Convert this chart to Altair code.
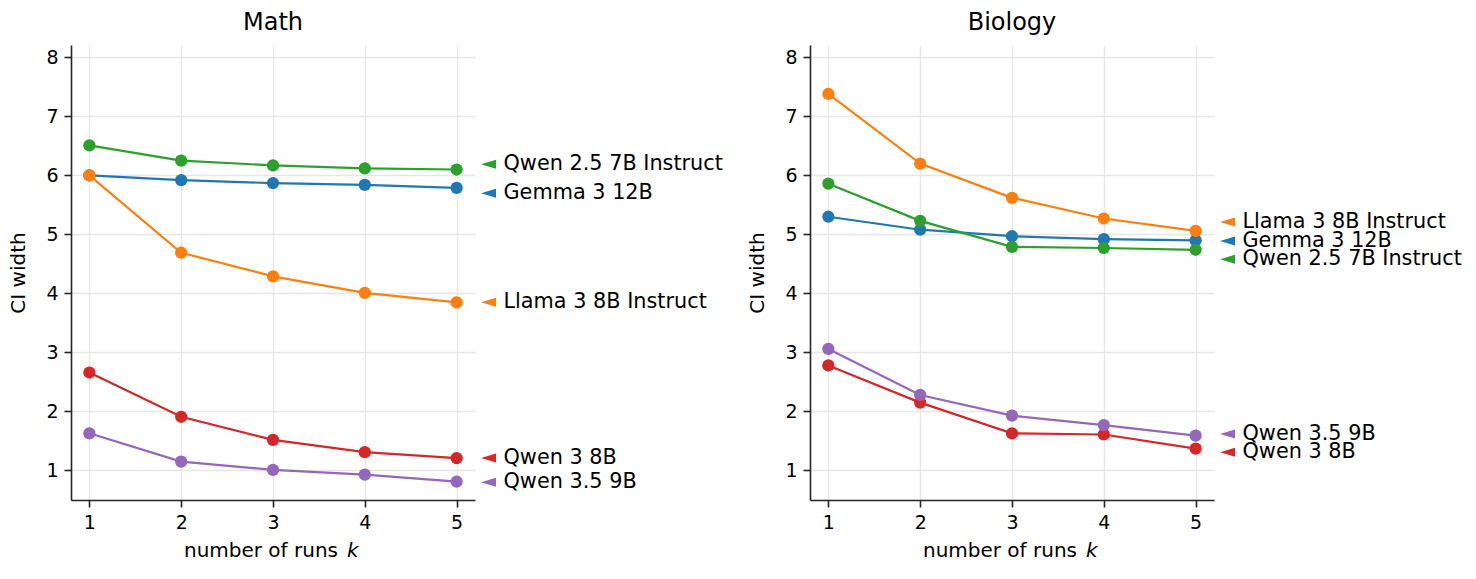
import altair as alt
import pandas as pd

FONT = "DejaVu Sans"

models = ["Gemma 3 12B", "Llama 3 8B Instruct", "Qwen 2.5 7B Instruct", "Qwen 3 8B", "Qwen 3.5 9B"]
colors = ["#1f77b4", "#ff7f0e", "#2ca02c", "#d62728", "#9467bd"]
k_values = [1, 2, 3, 4, 5]
y_ticks = [1, 2, 3, 4, 5, 6, 7, 8]

math_gemma = [6.00, 5.92, 5.87, 5.84, 5.79]
math_llama = [6.00, 4.69, 4.29, 4.01, 3.85]
math_qwen25 = [6.51, 6.25, 6.17, 6.12, 6.10]
math_qwen3 = [2.66, 1.91, 1.52, 1.31, 1.21]
math_qwen35 = [1.63, 1.15, 1.01, 0.93, 0.81]

bio_gemma = [5.30, 5.08, 4.97, 4.92, 4.90]
bio_llama = [7.38, 6.20, 5.62, 5.27, 5.06]
bio_qwen25 = [5.86, 5.23, 4.79, 4.77, 4.74]
bio_qwen3 = [2.78, 2.15, 1.63, 1.61, 1.37]
bio_qwen35 = [3.06, 2.28, 1.93, 1.77, 1.59]

# end-of-line label positions (in CI-width units, spread apart to avoid overlap)
math_label_y = [5.70, 3.85, 6.19, 1.21, 0.80]
bio_label_y = [4.89, 5.21, 4.58, 1.31, 1.62]

W = 404
H = 455
X_DOMAIN = [0.8, 5.2]
Y_DOMAIN = [0.5, 8.21]


def panel(title, series, label_y):
    rows = []
    for m, vals in zip(models, series):
        for k, v in zip(k_values, vals):
            rows.append({"model": m, "k": k, "ci": v})
    df = pd.DataFrame(rows)
    lab = pd.DataFrame({"model": models, "ly": label_y})

    xs = alt.Scale(domain=X_DOMAIN, nice=False, zero=False)
    ys = alt.Scale(domain=Y_DOMAIN, nice=False, zero=False)
    color = alt.Color("model:N", scale=alt.Scale(domain=models, range=colors), legend=None)

    x = alt.X("k:Q", scale=xs, axis=alt.Axis(values=k_values, format="d", title=None))
    y = alt.Y("ci:Q", scale=ys, axis=alt.Axis(values=y_ticks, format="d", title="CI width"))

    base = alt.Chart(df)
    lines = base.mark_line(strokeWidth=2.2).encode(x=x, y=y, color=color, detail="model:N")
    pts = base.mark_circle(size=150, opacity=1).encode(x=x, y=y, color=color)

    tri = alt.Chart(lab).mark_point(
        shape="M 1 -0.6 L -1 0 L 1 0.6 Z", filled=True, size=225, opacity=1, strokeWidth=0
    ).encode(
        x=alt.value(W + 13.5),
        y=alt.Y("ly:Q", scale=ys, title="CI width"),
        color=color,
    )
    txt = alt.Chart(lab).mark_text(
        align="left", baseline="middle", fontSize=20.8, font=FONT, color="black"
    ).encode(
        x=alt.value(W + 28.5),
        y=alt.Y("ly:Q", scale=ys, title="CI width"),
        text="model:N",
    )

    one = alt.Data(values=[{"a": 1}])
    xt1 = alt.Chart(one).mark_text(
        align="right", baseline="middle", fontSize=20, font=FONT, color="black"
    ).encode(x=alt.value(W / 2 + 65), y=alt.value(H + 51), text=alt.value("number of runs"))
    xt2 = alt.Chart(one).mark_text(
        align="left", baseline="middle", fontSize=20, font=FONT, color="black", fontStyle="italic"
    ).encode(x=alt.value(W / 2 + 74), y=alt.value(H + 51), text=alt.value("k"))

    return alt.layer(lines, pts, tri, txt, xt1, xt2).properties(
        width=W,
        height=H,
        title=alt.TitleParams(
            title, fontSize=24, fontWeight="normal", font=FONT, color="black",
            anchor="middle", frame="group", offset=10
        ),
    )


left = panel("Math", [math_gemma, math_llama, math_qwen25, math_qwen3, math_qwen35], math_label_y)
right = panel("Biology", [bio_gemma, bio_llama, bio_qwen25, bio_qwen3, bio_qwen35], bio_label_y)

chart = alt.hconcat(left, right, spacing=335, bounds="flush").properties(
    padding={"left": 8, "top": 11, "right": 5, "bottom": 5}
).configure_view(stroke=None).configure_axis(
    labelFont=FONT, titleFont=FONT, labelFontSize=19, titleFontSize=20,
    labelColor="black", titleColor="black", titleFontWeight="normal",
    domainColor="#262626", domainWidth=1.6, tickColor="#262626", tickWidth=1.6, tickSize=7,
    labelPadding=6, titlePadding=17,
    grid=True, gridColor="#e6e6e6", gridWidth=1.3,
)

chart.save("out.html", embed_options={"renderer": "svg", "actions": False})
